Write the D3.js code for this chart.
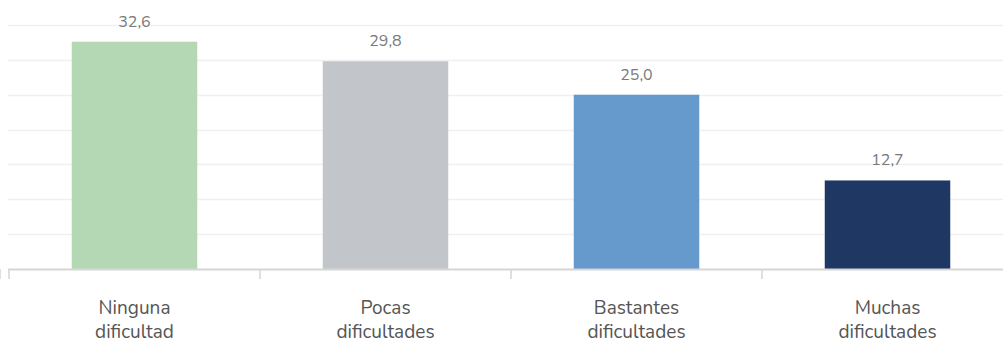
<!DOCTYPE html>
<html>
<head>
<meta charset="utf-8">
<script src="https://cdn.jsdelivr.net/npm/d3@7"></script>
<style>
  html, body { margin: 0; padding: 0; background: #fff; }
  svg { display: block; font-family: Nunito, Lato, "Noto Sans", sans-serif; }
</style>
</head>
<body>
<svg id="chart" width="1003" height="344"></svg>
<script>
// Share of respondents by level of difficulty (%)
const categories = [["Ninguna", "dificultad"], ["Pocas", "dificultades"], ["Bastantes", "dificultades"], ["Muchas", "dificultades"]];
const values = [32.6, 29.8, 25.0, 12.7];
const colors = ["#b3d8b3", "#c2c6ca", "#6699cc", "#1e3763"];
const gridTicks = [5, 10, 15, 20, 25, 30, 35];

const svg = d3.select("#chart");
const baseY = 269;

const x = d3.scaleBand()
  .domain(d3.range(values.length))
  .range([9, 1013])
  .paddingInner(0.5)
  .paddingOuter(0.25);

const y = d3.scaleLinear().domain([0, 35]).range([baseY, 25]);

// horizontal gridlines
svg.append("g")
  .selectAll("line")
  .data(gridTicks)
  .join("line")
  .attr("x1", 8).attr("x2", 1003)
  .attr("y1", d => Math.round(y(d)) + 0.5)
  .attr("y2", d => Math.round(y(d)) + 0.5)
  .attr("stroke", "#f0f0f0")
  .attr("stroke-width", 1.5);

// bars
svg.append("g")
  .selectAll("rect")
  .data(values)
  .join("rect")
  .attr("x", (d, i) => x(i))
  .attr("width", x.bandwidth())
  .attr("y", d => y(d))
  .attr("height", d => y(0) - y(d))
  .attr("fill", (d, i) => colors[i]);

// category axis with tick marks at band boundaries
const step = x.step();
const axis = svg.append("g");
axis.append("line")
  .attr("x1", 8).attr("x2", 1003)
  .attr("y1", baseY + 0.5).attr("y2", baseY + 0.5)
  .attr("stroke", "#d6d6d6").attr("stroke-width", 2);
axis.selectAll("line.tick")
  .data(d3.range(values.length + 1))
  .join("line")
  .attr("class", "tick")
  .attr("x1", i => x(i) + x.bandwidth() / 2 - step / 2)
  .attr("x2", i => x(i) + x.bandwidth() / 2 - step / 2)
  .attr("y1", baseY).attr("y2", baseY + 10)
  .attr("stroke", "#d6d6d6").attr("stroke-width", 1.5);

// category labels, one text element per line
const labelGroups = svg.append("g")
  .selectAll("g")
  .data(categories)
  .join("g");
labelGroups.selectAll("text")
  .data((lines, i) => lines.map((ln, k) => ({ ln, k, i })))
  .join("text")
  .attr("x", d => x(d.i) + x.bandwidth() / 2)
  .attr("y", d => 314 + d.k * 24)
  .attr("text-anchor", "middle")
  .attr("fill", "#555")
  .attr("font-size", 19)
  .text(d => d.ln);

// value labels
svg.append("g")
  .selectAll("text")
  .data(values)
  .join("text")
  .attr("x", (d, i) => x(i) + x.bandwidth() / 2)
  .attr("y", d => y(d) - 15)
  .attr("text-anchor", "middle")
  .attr("fill", "#7a7a7a")
  .attr("font-size", 16)
  .text(d => d.toFixed(1).replace(".", ","));
</script>
</body>
</html>
